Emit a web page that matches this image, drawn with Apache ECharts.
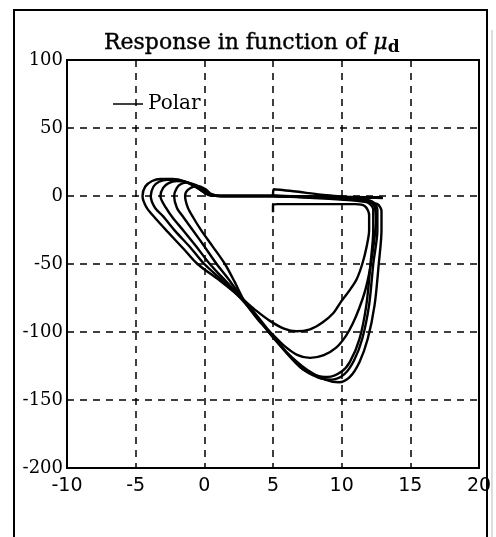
<!DOCTYPE html>
<html>
<head>
<meta charset="utf-8">
<script src="https://cdn.jsdelivr.net/npm/echarts@6/dist/echarts.min.js"></script>
<style>
html,body{margin:0;padding:0;background:#fff;}
#chart{width:496px;height:537px;}
</style>
</head>
<body>
<div id="chart"></div>
<script>
// Axis ranges / ticks
var xTicks = [-10, -5, 0, 5, 10, 15, 20];
var yTicks = [-200, -150, -100, -50, 0, 50, 100];
var legendLabels = ['Polar'];

// Curves: [x, y]
var curve1 = [[5,-12],[5,-6.5],[5.3,-6],[8,-6],[11,-6],[11.7,-7.5],[12.0,-14],[12.0,-25],[11.8,-38],[11.5,-50],[11.1,-61],[10.6,-69],[10.0,-77],[9.4,-86],[8.6,-93],[7.7,-98],[6.7,-99.5],[5.8,-97.5],[4.8,-92],[3.8,-84.5],[2.7,-75],[1.1,-62],[-0.5,-50],[-1.5,-39],[-2.7,-26],[-3.6,-16],[-4.2,-8.6],[-4.5,0],[-4.3,7],[-3.8,11],[-3.2,12.5],[-2.3,12.5],[-1.5,11],[-0.6,6.5],[0,2.5],[0.5,0.3],[2,0],[5,0],[8,-0.5],[11,-1],[13,-1.5]];
var curve2 = [[5,0],[8,-1],[11,-2.5],[12,-4],[12.4,-8],[12.5,-18],[12.4,-30],[12.2,-45],[12.0,-57],[11.7,-70],[11.3,-82],[10.8,-94],[10.3,-103],[9.6,-111.5],[8.7,-117],[7.7,-119],[6.8,-117],[5.8,-110],[4.8,-100],[4.0,-92],[2.9,-78],[1.4,-63],[0,-50],[-1.0,-38],[-2.1,-26],[-3.0,-15],[-3.6,-8.6],[-3.9,0],[-3.7,7],[-3.3,10.5],[-2.7,12],[-1.8,11.5],[-1,9],[-0.3,5],[0.3,1],[1,0],[5,0],[9,-0.8],[12.9,-1.2]];
var curve3 = [[5,0],[5.05,5],[6.5,3.5],[8.5,1],[11,-1.5],[11.8,-4],[12.3,-10],[12.3,-25],[12.1,-50],[11.8,-80],[11.3,-105],[10.6,-122],[10,-129],[9,-133],[8.2,-132],[7.0,-126],[5.0,-103],[4.0,-90],[2.9,-77],[1.6,-63],[0.4,-50],[-0.6,-37],[-1.5,-25.7],[-2.3,-16],[-2.8,-8.6],[-3.2,0],[-3.0,6],[-2.6,9.5],[-2.0,11],[-1.2,10],[-0.5,6],[0.2,1.5],[1,0],[5,0],[9,-0.7],[12.8,-1]];
var curve4 = [[5,0],[8,-1],[11,-2],[12.2,-4],[12.6,-10],[12.6,-25],[12.3,-50],[12.0,-80],[11.5,-105],[10.9,-121],[10.2,-131],[9.3,-135],[8.3,-133.5],[7.0,-126],[5.0,-104],[3.9,-90],[2.9,-77],[1.9,-63],[0.9,-50],[0,-37],[-0.8,-25.7],[-1.5,-16],[-2.0,-8.6],[-2.2,0],[-2.0,6],[-1.7,8.8],[-1.26,9.8],[-0.6,8],[0,4],[0.5,1],[1.2,0],[5,0],[9,-0.6],[12.8,-1]];
var curve5 = [[5,0],[8,-1.5],[10.5,-3],[11.8,-4.5],[12.6,-6],[12.9,-11],[12.9,-25],[12.7,-50],[12.4,-80],[11.9,-105],[11.3,-122],[10.6,-133],[9.8,-137],[8.8,-135],[7.5,-128],[6,-115],[4.8,-101],[3.8,-89],[2.9,-77],[2.2,-63],[1.5,-50],[0.6,-37],[-0.2,-25.7],[-0.8,-16],[-1.2,-8.6],[-1.4,0],[-1.2,4.5],[-0.53,7.4],[0.1,5],[0.5,1.5],[1.2,0],[5,0],[9,-0.8],[13,-1.2]];
var curves = [curve1, curve2, curve3, curve4, curve5];

var chart = echarts.init(document.getElementById('chart'));
var series = curves.map(function (c) {
  return {
    name: legendLabels[0],
    type: 'line',
    data: c,
    showSymbol: false,
    smooth: 0.3,
    color: '#000',
    lineStyle: {color: '#000', width: 2.4},
    z: 5
  };
});

var gridLine = {show: true, showMinLine: false, showMaxLine: false,
  lineStyle: {color: '#000', width: 1.5, type: [7, 6]}};

chart.setOption({
  animation: false,
  backgroundColor: '#fff',
  title: {
    text: '{a|Response in function of }{m|μ}{s|d}',
    left: 99, top: 26,
    textStyle: {
      fontWeight: 'normal',
      rich: {
        a: {fontFamily: 'DejaVu Serif', fontSize: 22, fontWeight: 'normal', color: '#000', textBorderColor: '#000', textBorderWidth: 0.4},
        m: {fontFamily: 'DejaVu Serif', fontSize: 22, fontStyle: 'italic', fontWeight: 'normal', color: '#000', textBorderColor: '#000', textBorderWidth: 0.4},
        s: {fontFamily: 'DejaVu Serif', fontSize: 17, fontWeight: 'bold', color: '#000', padding: [8, 0, 0, 0]}
      }
    }
  },
  legend: {
    data: legendLabels,
    left: 108, top: 89,
    icon: 'rect', itemWidth: 30, itemHeight: 1.5,
    itemStyle: {color: '#000'},
    textStyle: {fontFamily: 'DejaVu Serif', fontSize: 20, color: '#000'}
  },
  grid: {left: 67, right: 17, top: 60, bottom: 69, show: true, borderColor: '#000', borderWidth: 2},
  xAxis: {
    type: 'value', min: xTicks[0], max: xTicks[xTicks.length - 1], interval: 5,
    axisLine: {show: true, onZero: false, lineStyle: {color: '#000', width: 2}},
    axisTick: {show: false},
    axisLabel: {color: '#000', fontFamily: 'DejaVu Sans', fontSize: 19, margin: 9},
    splitLine: gridLine
  },
  yAxis: {
    type: 'value', min: yTicks[0], max: yTicks[yTicks.length - 1], interval: 50,
    axisLine: {show: true, onZero: false, lineStyle: {color: '#000', width: 2}},
    axisTick: {show: false},
    axisLabel: {color: '#000', fontFamily: 'DejaVu Serif', fontSize: 18, margin: 4},
    splitLine: gridLine
  },
  graphic: [
    {type: 'rect', shape: {x: 14, y: 10, width: 473, height: 560}, style: {fill: 'none', stroke: '#000', lineWidth: 2}, silent: true},
    {type: 'line', shape: {x1: 492, y1: 30, x2: 492, y2: 537}, style: {stroke: '#bbb', lineWidth: 1}, silent: true}
  ],
  series: series
});
</script>
</body>
</html>
